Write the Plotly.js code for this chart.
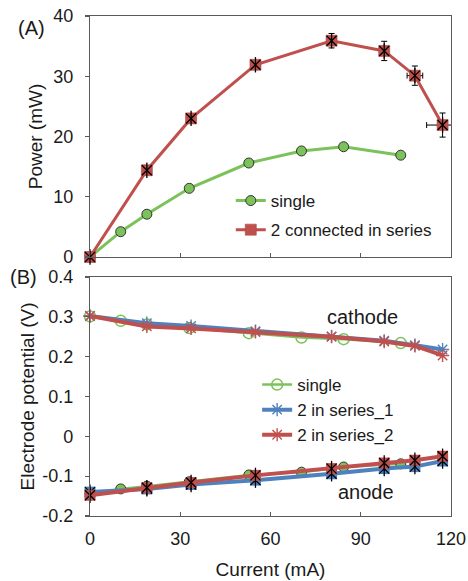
<!DOCTYPE html>
<html>
<head>
<meta charset="utf-8">
<script src="https://cdn.plot.ly/plotly-3.0.1.min.js"></script>
<style>html,body{margin:0;padding:0;background:#fff;}#chart{width:468px;height:581px;}</style>
</head>
<body>
<div id="chart"></div>
<script>
// ---- Data ----
const currentSingle = [0, 10.2, 18.9, 33.0, 52.8, 70.3, 84.3, 103.3];
const powerSingle   = [0, 4.2, 7.1, 11.4, 15.6, 17.6, 18.3, 16.9];

const currentSeries = [0, 18.9, 33.6, 55.0, 80.3, 97.8, 108.0, 117.2];
const powerSeries   = [0, 14.4, 23.0, 31.9, 35.9, 34.2, 30.1, 21.9];
const powerSeriesErrY   = [0, 0, 0, 0, 1.2, 1.6, 1.6, 2.0];
const currentSeriesErrX = [0, 0, 0, 0, 0, 0, 2.6, 5.3];

const cathodeSingle  = [0.301, 0.290, 0.281, 0.272, 0.259, 0.248, 0.244, 0.234];
const anodeSingle    = [-0.145, -0.132, -0.125, -0.114, -0.097, -0.090, -0.077, -0.069];
const cathodeSeries1 = [0.302, 0.284, 0.277, 0.264, 0.251, 0.240, 0.229, 0.218];
const anodeSeries1   = [-0.140, -0.132, -0.121, -0.110, -0.094, -0.081, -0.076, -0.062];
const cathodeSeries2 = [0.302, 0.276, 0.271, 0.262, 0.250, 0.238, 0.227, 0.203];
const anodeSeries2   = [-0.148, -0.129, -0.116, -0.098, -0.081, -0.067, -0.060, -0.050];

const xTickVals = [0, 30, 60, 90, 120];
const xTickText = ['0', '30', '60', '90', '120'];
const y1TickVals = [0, 10, 20, 30, 40];
const y1TickText = ['0', '10', '20', '30', '40'];
const y2TickVals = [-0.2, -0.1, 0, 0.1, 0.2, 0.3, 0.4];
const y2TickText = ['-0.2', '-0.1', '0', '0.1', '0.2', '0.3', '0.4'];

const nameSingle = 'single';
const nameSeriesTop = '2 connected in series';
const nameS1 = '2 in series_1';
const nameS2 = '2 in series_2';

// ---- Styles ----
const FONT = 'Arial, "Liberation Sans", sans-serif';
const GREEN = '#7CC25A';
const RED = '#C0504D';
const BLUE = '#4F81BD';
const AXIS = '#5A5A5A';
const TXT = '#1A1A1A';

function starOverlay(x, y, xa, ya, size) {
  return [
    {x: x, y: y, xaxis: xa, yaxis: ya, mode: 'markers', showlegend: false, hoverinfo: 'skip', cliponaxis: false,
     marker: {symbol: 'x-thin-open', size: size, color: '#000', line: {width: 1.3, color: '#000'}}},
    {x: x, y: y, xaxis: xa, yaxis: ya, mode: 'markers', showlegend: false, hoverinfo: 'skip', cliponaxis: false,
     marker: {symbol: 'line-ns-open', size: size + 1, color: '#000', line: {width: 1.3, color: '#000'}}}
  ];
}

const data = [
  // Panel A
  {x: currentSingle, y: powerSingle, xaxis: 'x', yaxis: 'y', name: nameSingle, legend: 'legend', legendgroup: 'a1',
   mode: 'lines+markers', cliponaxis: false, line: {color: GREEN, width: 3},
   marker: {symbol: 'circle', size: 10, color: GREEN, line: {color: '#333', width: 1}}},
  {x: currentSeries, y: powerSeries, xaxis: 'x', yaxis: 'y', name: nameSeriesTop, legend: 'legend', legendgroup: 'a2',
   mode: 'lines+markers', cliponaxis: false, line: {color: RED, width: 3},
   marker: {symbol: 'square', size: 11, color: RED, line: {color: '#A94441', width: 0.6}},
   error_y: {type: 'data', array: powerSeriesErrY, visible: true, color: '#000', thickness: 1, width: 3},
   error_x: {type: 'data', array: currentSeriesErrX, visible: true, color: '#000', thickness: 1, width: 3}},
  ...starOverlay(currentSeries, powerSeries, 'x', 'y', 10),

  // Panel B - green (single)
  {x: currentSingle, y: anodeSingle, xaxis: 'x2', yaxis: 'y2', showlegend: false, legend: 'legend2',
   mode: 'lines+markers', cliponaxis: false, line: {color: GREEN, width: 2.5},
   marker: {symbol: 'circle', size: 10, color: GREEN, line: {color: '#333', width: 1}}},
  {x: currentSingle, y: cathodeSingle, xaxis: 'x2', yaxis: 'y2', name: nameSingle, legend: 'legend2',
   mode: 'lines+markers', cliponaxis: false, line: {color: GREEN, width: 2.5},
   marker: {symbol: 'circle-open', size: 11, color: GREEN, line: {color: GREEN, width: 1.5}}},

  // Panel B - blue (series_1)
  {x: currentSeries, y: anodeSeries1, xaxis: 'x2', yaxis: 'y2', showlegend: false, legend: 'legend2',
   mode: 'lines+markers', cliponaxis: false, line: {color: BLUE, width: 4},
   marker: {symbol: 'square', size: 11, color: BLUE}},
  ...starOverlay(currentSeries, anodeSeries1, 'x2', 'y2', 10),
  {x: currentSeries, y: cathodeSeries1, xaxis: 'x2', yaxis: 'y2', name: nameS1, legend: 'legend2',
   mode: 'lines+markers', cliponaxis: false, line: {color: BLUE, width: 4},
   marker: {symbol: 'asterisk-open', size: 11, color: BLUE, line: {color: BLUE, width: 1.4}}},

  // Panel B - red (series_2)
  {x: currentSeries, y: anodeSeries2, xaxis: 'x2', yaxis: 'y2', showlegend: false, legend: 'legend2',
   mode: 'lines+markers', cliponaxis: false, line: {color: RED, width: 4},
   marker: {symbol: 'square', size: 11, color: RED}},
  ...starOverlay(currentSeries, anodeSeries2, 'x2', 'y2', 10),
  {x: currentSeries, y: cathodeSeries2, xaxis: 'x2', yaxis: 'y2', name: nameS2, legend: 'legend2',
   mode: 'lines+markers', cliponaxis: false, line: {color: RED, width: 4},
   marker: {symbol: 'asterisk-open', size: 11, color: RED, line: {color: RED, width: 1.4}}}
];

const axisCommon = {
  showline: true, mirror: true, linecolor: AXIS, linewidth: 1.2,
  showgrid: false, zeroline: false, ticklen: 4, tickcolor: AXIS, tickwidth: 1.2,
  tickfont: {family: FONT, size: 18, color: TXT}, tickmode: 'array'
};

const layout = {
  width: 468, height: 581,
  margin: {l: 90, r: 17, t: 16, b: 65},
  paper_bgcolor: '#fff', plot_bgcolor: '#fff',
  font: {family: FONT, color: TXT},
  xaxis: Object.assign({}, axisCommon, {domain: [0, 1], anchor: 'y', range: [0, 120],
    tickvals: xTickVals, ticktext: xTickText, ticks: 'inside', showticklabels: false}),
  yaxis: Object.assign({}, axisCommon, {domain: [0.518, 1], anchor: 'x', range: [0, 40],
    tickvals: y1TickVals, ticktext: y1TickText, ticks: 'outside', ticklabelstandoff: 8,
    title: {text: 'Power (mW)', font: {family: FONT, size: 19, color: TXT}, standoff: 5}}),
  xaxis2: Object.assign({}, axisCommon, {domain: [0, 1], anchor: 'y2', range: [0, 120],
    tickvals: xTickVals, ticktext: xTickText, ticks: 'inside', ticklabelstandoff: 6,
    title: {text: 'Current (mA)', font: {family: FONT, size: 19, color: TXT}, standoff: 15}}),
  yaxis2: Object.assign({}, axisCommon, {domain: [0, 0.478], anchor: 'x2', range: [-0.2, 0.4],
    tickvals: y2TickVals, ticktext: y2TickText, ticks: 'outside', ticklabelstandoff: 8,
    title: {text: 'Electrode potential (V)', font: {family: FONT, size: 19, color: TXT}, standoff: 2}}),
  legend: {x: 0.39, y: 0.666, xanchor: 'left', yanchor: 'top', bgcolor: 'rgba(0,0,0,0)',
    font: {family: FONT, size: 17, color: TXT}, tracegroupgap: 4, borderwidth: 0},
  legend2: {x: 0.463, y: 0.298, xanchor: 'left', yanchor: 'top', bgcolor: 'rgba(0,0,0,0)',
    font: {family: FONT, size: 17, color: TXT}, tracegroupgap: 0, borderwidth: 0},
  annotations: [
    {text: '(A)', xref: 'paper', yref: 'paper', x: -0.163, y: 0.976, showarrow: false,
     xanchor: 'center', yanchor: 'middle', font: {family: FONT, size: 20, color: TXT}},
    {text: '(B)', xref: 'paper', yref: 'paper', x: -0.185, y: 0.478, showarrow: false,
     xanchor: 'center', yanchor: 'middle', font: {family: FONT, size: 20, color: TXT}},
    {text: 'cathode', xref: 'x2', yref: 'y2', x: 90.7, y: 0.300, showarrow: false,
     xanchor: 'center', yanchor: 'middle', font: {family: FONT, size: 20, color: TXT}},
    {text: 'anode', xref: 'x2', yref: 'y2', x: 91.7, y: -0.140, showarrow: false,
     xanchor: 'center', yanchor: 'middle', font: {family: FONT, size: 20, color: TXT}}
  ],
  showlegend: true
};

Plotly.newPlot('chart', data, layout, {displayModeBar: false, staticPlot: true});
</script>
</body>
</html>
